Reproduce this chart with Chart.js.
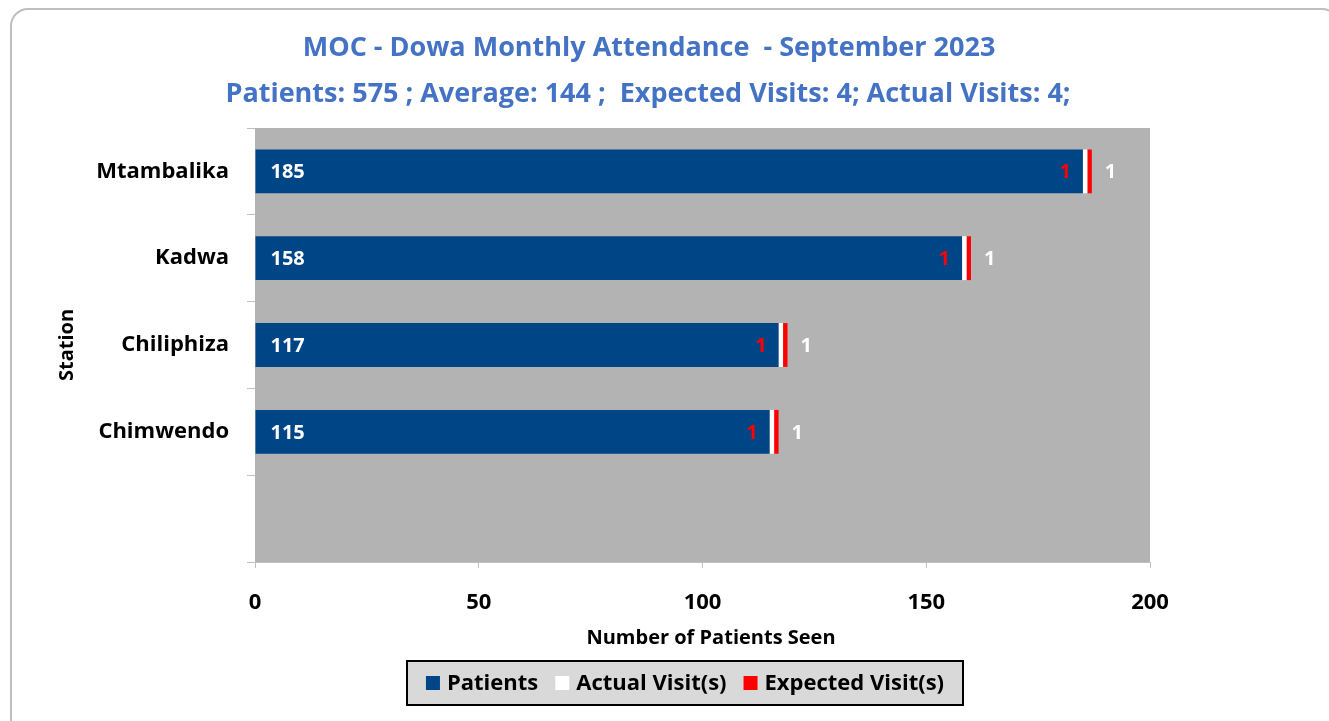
<!DOCTYPE html>
<html>
<head>
<meta charset="utf-8">
<script src="https://cdn.jsdelivr.net/npm/chart.js@4.4.0/dist/chart.umd.min.js"></script>
<style>
  html, body { margin: 0; padding: 0; background: #fff; overflow: hidden; }
  #frame {
    position: absolute; left: 10px; top: 8px; width: 1330px; height: 730px;
    border: 2px solid #BFBFBF; border-radius: 18px; box-sizing: border-box;
  }
  #wrap { position: absolute; left: 0; top: 0; width: 1329px; height: 721px; }
</style>
</head>
<body>
<div id="frame"></div>
<div id="wrap"><canvas id="chart"></canvas></div>
<script>
const FONT = "'Open Sans', sans-serif";

const stations = ["Mtambalika", "Kadwa", "Chiliphiza", "Chimwendo", ""];
const patients = [185, 158, 117, 115, null];
const actualVisits = [1, 1, 1, 1, null];
const expectedVisits = [1, 1, 1, 1, null];
const xTicks = [0, 50, 100, 150, 200];

const seriesNames = ["Patients", "Actual Visit(s)", "Expected Visit(s)"];
const seriesColors = ["#004586", "#FFFFFF", "#FF0000"];

const titleLines = [
  "MOC - Dowa Monthly Attendance  - September 2023",
  "Patients: 575 ; Average: 144 ;  Expected Visits: 4; Actual Visits: 4;"
];

// gray plot area
const plotBg = {
  id: "plotBg",
  beforeDatasetsDraw(chart) {
    const { ctx, chartArea: a } = chart;
    ctx.save();
    ctx.fillStyle = "#B3B3B3";
    ctx.fillRect(a.left, a.top, a.right - a.left, a.bottom - a.top);
    ctx.restore();
  }
};

// value labels on the bars
const barLabels = {
  id: "barLabels",
  afterDatasetsDraw(chart) {
    const ctx = chart.ctx;
    ctx.save();
    ctx.font = "bold 20px " + FONT;
    ctx.textBaseline = "middle";
    chart.getDatasetMeta(0).data.forEach((bar, i) => {
      if (patients[i] == null) return;
      ctx.fillStyle = "#FFFFFF";
      ctx.textAlign = "left";
      ctx.fillText(patients[i], bar.base + 15, bar.y + 1);
    });
    chart.getDatasetMeta(1).data.forEach((bar, i) => {
      if (actualVisits[i] == null) return;
      ctx.fillStyle = "#FF0000";
      ctx.textAlign = "right";
      ctx.fillText(actualVisits[i], bar.base - 12, bar.y + 1);
    });
    chart.getDatasetMeta(2).data.forEach((bar, i) => {
      if (expectedVisits[i] == null) return;
      ctx.fillStyle = "#FFFFFF";
      ctx.textAlign = "left";
      ctx.fillText(expectedVisits[i], bar.x + 13, bar.y + 1);
    });
    ctx.restore();
  }
};

// two-line title, x title and boxed legend
const chrome = {
  id: "chrome",
  afterDraw(chart) {
    const ctx = chart.ctx;
    ctx.save();
    ctx.fillStyle = "#4472C4";
    ctx.textAlign = "center";
    ctx.textBaseline = "middle";
    ctx.font = "bold 27px " + FONT;
    ctx.fillText(titleLines[0], 649, 48);
    ctx.fillText(titleLines[1], 648, 94);

    ctx.fillStyle = "#000";
    ctx.font = "bold 20px " + FONT;
    ctx.fillText("Number of Patients Seen", 711, 638);

    // legend
    const box = { x: 407, y: 661, w: 556, h: 44 };
    ctx.fillStyle = "#D9D9D9";
    ctx.fillRect(box.x, box.y, box.w, box.h);
    ctx.strokeStyle = "#000";
    ctx.lineWidth = 2;
    ctx.strokeRect(box.x, box.y, box.w, box.h);

    ctx.font = "bold 22px " + FONT;
    const sq = 14, gapIn = 7, gapOut = 17;
    const widths = seriesNames.map(n => ctx.measureText(n).width);
    const total = widths.reduce((s, w) => s + sq + gapIn + w, 0) + gapOut * (seriesNames.length - 1);
    let x = box.x + (box.w - total) / 2;
    const cy = box.y + box.h / 2;
    ctx.textAlign = "left";
    seriesNames.forEach((n, i) => {
      ctx.fillStyle = seriesColors[i];
      ctx.fillRect(x, cy - sq / 2, sq, sq);
      x += sq + gapIn;
      ctx.fillStyle = "#000";
      ctx.fillText(n, x, cy + 1);
      x += widths[i] + gapOut;
    });
    ctx.restore();
  }
};

new Chart(document.getElementById("chart"), {
  type: "bar",
  data: {
    labels: stations,
    datasets: [
      { label: seriesNames[0], data: patients, backgroundColor: seriesColors[0] },
      { label: seriesNames[1], data: actualVisits, backgroundColor: seriesColors[1] },
      { label: seriesNames[2], data: expectedVisits, backgroundColor: seriesColors[2] }
    ].map(d => ({ ...d, barPercentage: 0.505, categoryPercentage: 1, borderWidth: 0 }))
  },
  options: {
    indexAxis: "y",
    responsive: true,
    maintainAspectRatio: false,
    animation: false,
    layout: { padding: { top: 128, right: 179, bottom: 59, left: 40 } },
    plugins: { legend: { display: false }, title: { display: false }, tooltip: { enabled: false } },
    scales: {
      x: {
        stacked: true,
        min: 0,
        max: 200,
        afterBuildTicks: s => { s.ticks = xTicks.map(v => ({ value: v })); },
        afterFit: s => { s.height = 100; },
        grid: { drawOnChartArea: false, tickLength: 6, color: "#BFBFBF" },
        border: { color: "#BFBFBF", width: 1 },
        ticks: { color: "#000", padding: 22, font: { family: FONT, size: 22, weight: "bold" } },
        title: { display: false }
      },
      y: {
        stacked: true,
        afterFit: s => { s.width = 215; },
        grid: { drawOnChartArea: false, offset: true, tickLength: 8, color: "#BFBFBF" },
        border: { color: "#BFBFBF", width: 1 },
        ticks: { color: "#000", padding: 18, font: { family: FONT, size: 22, weight: "bold" } },
        title: {
          display: true,
          text: "Station",
          color: "#000",
          padding: { top: 15, bottom: 0 },
          font: { family: FONT, size: 20, weight: "bold" }
        }
      }
    }
  },
  plugins: [plotBg, barLabels, chrome]
});
</script>
</body>
</html>
